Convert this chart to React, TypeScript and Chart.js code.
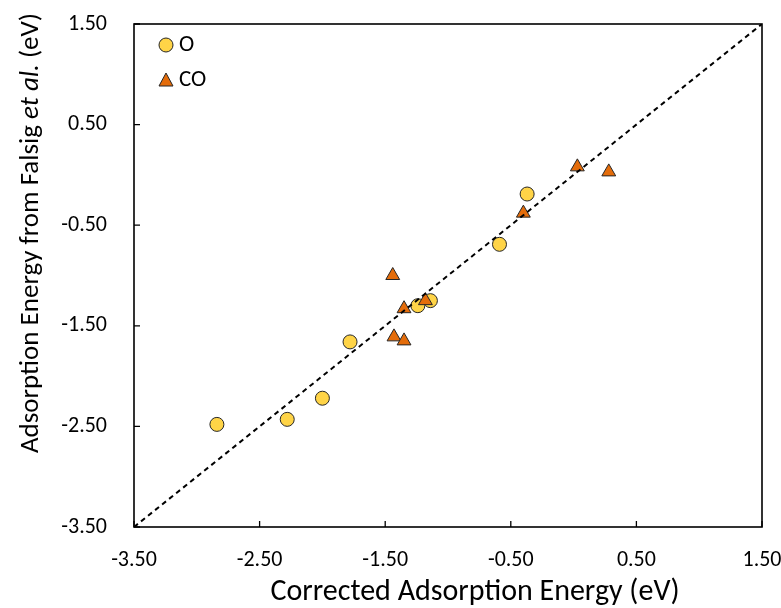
import { useEffect, useRef } from 'react';
import { Chart, registerables } from 'chart.js';

Chart.register(...registerables);

const FONT = 'Carlito, "Open Sans", Lato, sans-serif';

const oX = [-2.84, -2.28, -2.0, -1.78, -1.24, -1.14, -0.59, -0.37];
const oY = [-2.48, -2.43, -2.22, -1.66, -1.3, -1.25, -0.69, -0.19];
const coX = [-1.44, -1.35, -1.18, -1.43, -1.35, -0.4, 0.03, 0.28];
const coY = [-1.0, -1.33, -1.25, -1.61, -1.65, -0.38, 0.08, 0.03];
const parityX = [-3.5, 1.5];
const parityY = [-3.5, 1.5];
const tickValues = [-3.5, -2.5, -1.5, -0.5, 0.5, 1.5];

const seriesNames = ['O', 'CO'];
const xTitle = 'Corrected Adsorption Energy (eV)';
const yTitleParts = [
  { text: 'Adsorption Energy from Falsig ', italic: false },
  { text: 'et al.', italic: true },
  { text: ' (eV)', italic: false },
];

const O_FILL = '#FFD447';
const CO_FILL = '#E46C0A';
const EDGE = '#262626';

const zip = (xs: number[], ys: number[]) => xs.map((x, i) => ({ x, y: ys[i] }));

export default function App() {
  const ref = useRef<HTMLCanvasElement>(null);

  useEffect(() => {
    if (!ref.current) return;

    const deco = {
      id: 'deco',
      afterDraw(chart: any) {
        const { ctx, chartArea: a, scales } = chart;
        ctx.save();
        // frame
        ctx.strokeStyle = '#000';
        ctx.lineWidth = 1.6;
        ctx.strokeRect(a.left, a.top, a.right - a.left, a.bottom - a.top);
        // inward ticks
        ctx.lineWidth = 1.3;
        ctx.beginPath();
        for (const v of tickValues) {
          const px = scales.x.getPixelForValue(v);
          ctx.moveTo(px, a.bottom);
          ctx.lineTo(px, a.bottom - 6);
          const py = scales.y.getPixelForValue(v);
          ctx.moveTo(a.left, py);
          ctx.lineTo(a.left + 6, py);
        }
        ctx.stroke();

        // legend
        ctx.lineWidth = 1;
        ctx.strokeStyle = EDGE;
        ctx.fillStyle = O_FILL;
        ctx.beginPath();
        ctx.arc(166, 45, 7, 0, Math.PI * 2);
        ctx.fill();
        ctx.stroke();
        ctx.fillStyle = CO_FILL;
        ctx.beginPath();
        ctx.moveTo(166, 73);
        ctx.lineTo(173, 86);
        ctx.lineTo(159, 86);
        ctx.closePath();
        ctx.fill();
        ctx.stroke();
        ctx.fillStyle = '#000';
        ctx.font = `23px ${FONT}`;
        ctx.textBaseline = 'middle';
        ctx.textAlign = 'left';
        ctx.fillText(seriesNames[0], 179, 45);
        ctx.fillText(seriesNames[1], 179, 80);

        // x title
        ctx.font = `30px ${FONT}`;
        ctx.textAlign = 'center';
        ctx.fillText(xTitle, 475, 592);

        // y title (mixed italic)
        const ySize = 27;
        ctx.translate(31, 233);
        ctx.rotate(-Math.PI / 2);
        let total = 0;
        const widths = yTitleParts.map((p) => {
          ctx.font = `${p.italic ? 'italic ' : ''}${ySize}px ${FONT}`;
          const w = ctx.measureText(p.text).width;
          total += w;
          return w;
        });
        let x = -total / 2;
        ctx.textAlign = 'left';
        yTitleParts.forEach((p, i) => {
          ctx.font = `${p.italic ? 'italic ' : ''}${ySize}px ${FONT}`;
          ctx.fillText(p.text, x, 0);
          x += widths[i];
        });
        ctx.restore();
      },
    };

    const chart = new Chart(ref.current, {
      type: 'scatter',
      data: {
        datasets: [
          {
            type: 'line',
            label: 'parity',
            data: zip(parityX, parityY),
            borderColor: '#000',
            borderWidth: 2,
            borderDash: [5, 4],
            pointRadius: 0,
            fill: false,
          } as any,
          {
            label: seriesNames[1],
            data: zip(coX, coY),
            pointStyle: 'triangle',
            pointRadius: 8,
            pointBackgroundColor: CO_FILL,
            pointBorderColor: EDGE,
            pointBorderWidth: 1,
          },
          {
            label: seriesNames[0],
            data: zip(oX, oY),
            pointStyle: 'circle',
            pointRadius: 7,
            pointBackgroundColor: O_FILL,
            pointBorderColor: EDGE,
            pointBorderWidth: 1,
          },
        ],
      },
      options: {
        responsive: false,
        animation: false,
        devicePixelRatio: 1,
        layout: { padding: { top: 24, right: 19, left: 0, bottom: 0 } },
        plugins: { legend: { display: false }, tooltip: { enabled: false } },
        scales: {
          x: {
            type: 'linear',
            min: -3.5,
            max: 1.5,
            grid: { display: false, drawTicks: false },
            border: { display: false },
            ticks: {
              stepSize: 1,
              padding: 20,
              color: '#000',
              font: { family: FONT, size: 22 },
              callback: (v: any) => Number(v).toFixed(2),
            },
            afterFit: (s: any) => {
              s.height = 81;
              s.paddingLeft = 0;
              s.paddingRight = 0;
            },
          },
          y: {
            type: 'linear',
            min: -3.5,
            max: 1.5,
            grid: { display: false, drawTicks: false },
            border: { display: false },
            ticks: {
              stepSize: 1,
              padding: 27,
              color: '#000',
              font: { family: FONT, size: 22 },
              callback: (v: any) => Number(v).toFixed(2),
            },
            afterFit: (s: any) => {
              s.width = 134;
              s.paddingTop = 0;
              s.paddingBottom = 0;
            },
          },
        },
      },
      plugins: [deco],
    });

    return () => chart.destroy();
  }, []);

  return (
    <div style={{ position: 'absolute', left: 0, top: 0, width: 781, height: 608, background: '#fff' }}>
      <canvas ref={ref} width={781} height={608} style={{ display: 'block' }} />
    </div>
  );
}
